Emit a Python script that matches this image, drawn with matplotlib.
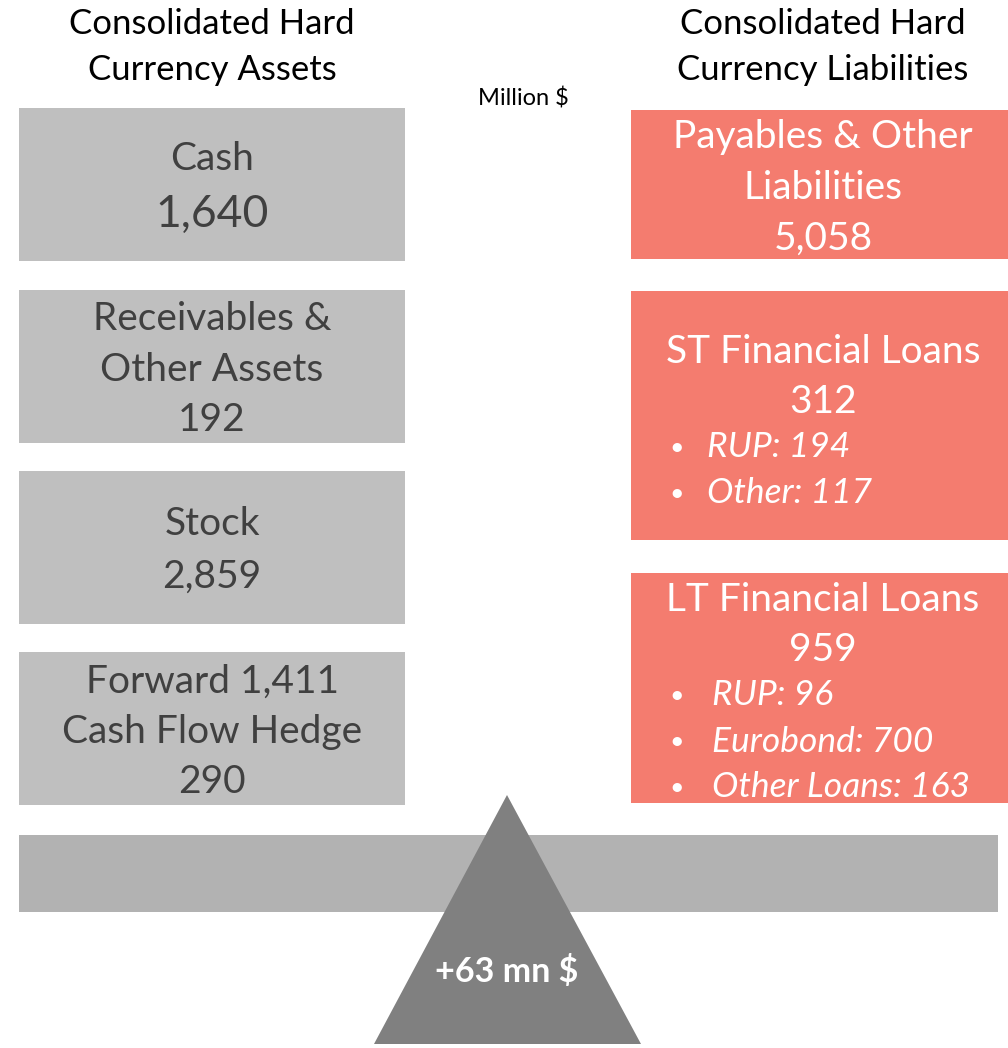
import matplotlib.pyplot as plt
from matplotlib.patches import Rectangle, Polygon

plt.rcParams['font.family'] = ['Lato', 'DejaVu Sans']

# data
asset_lines = [['Cash', '1,640'],
               ['Receivables &', 'Other Assets', '192'],
               ['Stock', '2,859'],
               ['Forward 1,411', 'Cash Flow Hedge', '290']]
liab_titles = [['Payables & Other', 'Liabilities', '5,058'],
               ['ST Financial Loans', '312'],
               ['LT Financial Loans', '959']]
liab_bullets = [[],
                ['RUP: 194', 'Other: 117'],
                ['RUP: 96', 'Eurobond: 700', 'Other Loans: 163']]
headers = [['Consolidated Hard', 'Currency Assets'],
           ['Consolidated Hard', 'Currency Liabilities']]
net_label = '+63 mn $'
unit = 'Million $'

GREY = '#bfbfbf'
SALMON = '#f47c6f'
TXT = '#404040'
DY = 2  # small vertical nudge for text

fig = plt.figure(figsize=(10.08, 10.48), dpi=100)
ax = fig.add_axes([0, 0, 1, 1])
ax.set_xlim(0, 1008)
ax.set_ylim(1048, 0)
ax.axis('off')

# headers
for cx, lines in zip([212, 823], headers):
    for s, y in zip(lines, [22, 68]):
        ax.text(cx, y + DY, s, ha='center', va='center', fontsize=25, color='black')
ax.text(523, 98 + 1, unit, ha='center', va='center', fontsize=17, color='black')

# asset boxes
a_tops = [108, 290, 471, 652]
a_ys = [[157, 212], [317, 368, 418], [522, 575], [680, 730, 780]]
for top, lines, ys in zip(a_tops, asset_lines, a_ys):
    ax.add_patch(Rectangle((19, top), 386, 153, facecolor=GREY, edgecolor='none'))
    for i, (s, y) in enumerate(zip(lines, ys)):
        big = (top == 108 and i == 1)
        ax.text(212, y + DY, s, ha='center', va='center', color=TXT,
                fontsize=32 if big else 28)

# liability boxes
l_box = [(110, 149), (291, 249), (573, 230)]
l_ys = [[135, 186, 237], [350, 400], [598, 648]]
b_ys = [[], [445, 491], [693, 740, 785]]
b_x = [0, 707, 712]
for k in range(3):
    top, h = l_box[k]
    ax.add_patch(Rectangle((631, top), 377, h, facecolor=SALMON, edgecolor='none'))
    for s, y in zip(liab_titles[k], l_ys[k]):
        ax.text(823, y + DY, s, ha='center', va='center', color='white', fontsize=28)
    for s, y in zip(liab_bullets[k], b_ys[k]):
        ax.text(677, y + DY, '\u2022', ha='center', va='center', color='white', fontsize=18)
        ax.text(b_x[k], y + DY, s, ha='left', va='center', color='white', fontsize=25.5, style='italic')

# balance beam and fulcrum
ax.add_patch(Rectangle((19, 835), 979, 77, facecolor='#b2b2b2', edgecolor='none'))
ax.add_patch(Polygon([(507, 795), (374, 1044), (641, 1044)], closed=True,
                     facecolor='#808080', edgecolor='none'))
ax.text(507, 970 + DY, net_label, ha='center', va='center', color='white',
        fontsize=24.5, fontweight='bold')

fig.savefig('out.png', dpi=100)
